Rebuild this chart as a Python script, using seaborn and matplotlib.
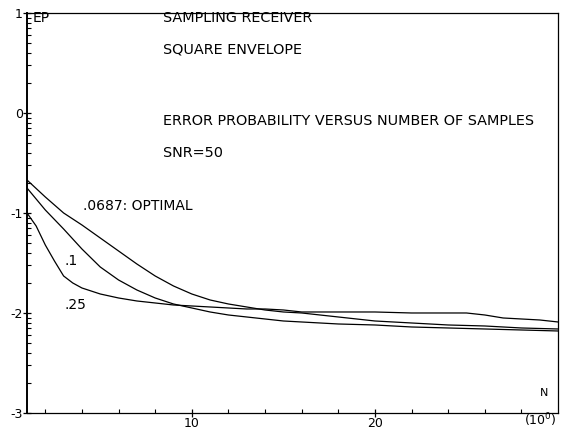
import numpy as np
import pandas as pd
import matplotlib
matplotlib.use("Agg")
import matplotlib.pyplot as plt
import seaborn as sns

# log10 of error probability vs number of samples N
n_opt = [1, 2, 3, 4, 5, 6, 7, 8, 9, 10, 11, 12, 13, 14, 15, 16, 17, 18, 20, 22, 24, 26, 28, 30]
ep_opt = [-0.67, -0.84, -1.0, -1.12, -1.25, -1.38, -1.51, -1.63, -1.73, -1.81, -1.87, -1.91,
          -1.94, -1.97, -1.99, -2.0, -2.02, -2.04, -2.08, -2.10, -2.12, -2.13, -2.15, -2.16]

n_01 = [1, 2, 3, 4, 5, 6, 7, 8, 9, 10, 11, 12, 13, 14, 15, 16, 18, 20, 22, 24, 26, 28, 30]
ep_01 = [-0.75, -0.97, -1.16, -1.36, -1.54, -1.67, -1.77, -1.85, -1.91, -1.95, -1.99, -2.02,
         -2.04, -2.06, -2.08, -2.09, -2.11, -2.12, -2.14, -2.15, -2.16, -2.17, -2.18]

n_025 = [1, 1.5, 2, 2.5, 3, 3.5, 4, 5, 6, 7, 8, 9, 10, 11, 12, 13, 14, 15, 16, 18, 20, 22,
         24, 25, 26, 27, 28, 29, 30]
ep_025 = [-1.0, -1.13, -1.32, -1.48, -1.63, -1.70, -1.75, -1.81, -1.85, -1.88, -1.90, -1.92,
          -1.93, -1.94, -1.95, -1.96, -1.96, -1.97, -1.99, -1.99, -1.99, -2.0, -2.0, -2.0,
          -2.02, -2.05, -2.06, -2.07, -2.09]

df = pd.concat([
    pd.DataFrame({"N": n_opt, "EP": ep_opt, "curve": ".0687"}),
    pd.DataFrame({"N": n_01, "EP": ep_01, "curve": ".1"}),
    pd.DataFrame({"N": n_025, "EP": ep_025, "curve": ".25"}),
])

sns.set_style("white")
plt.rcParams["font.family"] = ["DejaVu Sans"]
plt.rcParams["text.color"] = "black"
plt.rcParams["xtick.color"] = "black"
plt.rcParams["ytick.color"] = "black"
fs = 9
tfs = 10.4

fig = plt.figure(figsize=(5.68, 4.32), dpi=100)
ax = fig.add_axes([0.0475, 0.044, 0.935, 0.926])

sns.lineplot(data=df, x="N", y="EP", units="curve", estimator=None, color="black",
             linewidth=0.9, ax=ax)

ax.set_xlim(1, 30)
ax.set_ylim(-3, 1)
ax.set_xlabel("")
ax.set_ylabel("")

ax.set_xticks([10, 20])
ax.set_xticklabels(["10", "20"], fontsize=fs)
ax.set_xticks(np.arange(2, 30, 2), minor=True)
ax.set_yticks([-3, -2, -1, 0, 1])
ax.set_yticklabels(["-3", "-2", "-1", "0", "1"], fontsize=fs)
ax.set_yticks([d + np.log10(k) for d in range(-3, 1) for k in range(2, 10)], minor=True)
ax.tick_params(which="major", direction="inout", length=6, width=0.9, pad=0, left=True,
               bottom=True)
ax.tick_params(which="minor", direction="in", length=3, width=0.8, left=True, bottom=True)
for s in ax.spines.values():
    s.set_color("black")
    s.set_linewidth(0.9)
ax.spines["left"].set_linewidth(1.4)

tr = ax.transAxes
ax.text(0.011, 0.9875, "EP", transform=tr, fontsize=10, va="center")
ax.text(0.256, 0.9875, "SAMPLING RECEIVER", transform=tr, fontsize=tfs, va="center")
ax.text(0.256, 0.9075, "SQUARE ENVELOPE", transform=tr, fontsize=tfs, va="center")
ax.text(0.256, 0.73, "ERROR PROBABILITY VERSUS NUMBER OF SAMPLES", transform=tr,
        fontsize=tfs, va="center")
ax.text(0.256, 0.65, "SNR=50", transform=tr, fontsize=tfs, va="center")
ax.text(0.982, 0.05, "N", transform=tr, fontsize=fs - 1, ha="right", va="center")
ax.text(0.967, -0.018, "(10$^0$)", transform=tr, fontsize=fs, ha="center", va="center")

ax.text(4.05, -0.93, ".0687: OPTIMAL", fontsize=10, va="center")
ax.text(3.05, -1.48, ".1", fontsize=10, va="center")
ax.text(3.05, -1.92, ".25", fontsize=10, va="center")

fig.savefig("out.png", dpi=100)
